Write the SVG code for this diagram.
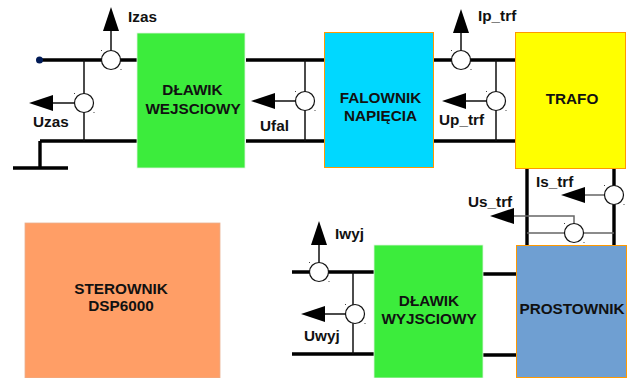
<svg xmlns="http://www.w3.org/2000/svg" width="629" height="378" viewBox="0 0 629 378">
<style>
text{font-family:"Liberation Sans",Arial,sans-serif;font-weight:bold;fill:#111;font-size:15.3px}
.c{text-anchor:middle}
.b{stroke:#000;stroke-width:3.4;fill:none}
.t{stroke:#111;stroke-width:1.5;fill:none}
.g{stroke:#666;stroke-width:1.5;fill:none}
.s{fill:#fff;stroke:#111;stroke-width:1.2}
.d{fill:#444}
.a{fill:#000}
</style>
<defs>
<g id="sensor"><circle class="s" r="9.500"/><rect class="d" x="-10" y="-10" width="1" height="1"/><rect class="d" x="9.500" y="9" width="1" height="1"/></g>
</defs>
<rect width="629" height="378" fill="#fff"/>
<g id="connectors">
<path class="b" d="M39 60H137M246 60H324M40 141H137M246 141H324M40 141V168M13 168H68M433 60H516M433 141H516"/>
<path class="t" d="M84 60V141M305 60V141M496 60V141"/>
<path class="b" d="M527 168V245M614 168V245M292 272H374M292 354H374M483 274H517M483 355H517"/>
<path class="t" d="M353 272V354"/>
<path class="g" d="M527 233H614M574 233V216H512M614 195H580"/>
<path class="t" d="M111 60V28M84 103H50M305 101H270M461 60V30M496 101H460M319 272V243M355 314H320"/>
<polygon class="a" points="111,7 103,31 119,31"/>
<polygon class="a" points="29,103 53,95 53,111"/>
<polygon class="a" points="251,101 275,93 275,109"/>
<polygon class="a" points="461,9 453,33 469,33"/>
<polygon class="a" points="442,101 466,93 466,109"/>
<polygon class="a" points="561,195 585,187 585,203"/>
<polygon class="a" points="490,216 514,208 514,224"/>
<polygon class="a" points="319,221 311,245 327,245"/>
<polygon class="a" points="301,314 325,306 325,322"/>
<circle cx="39.500" cy="60" r="3.500" fill="#001a55"/>
</g>
<g id="sensors">
<use href="#sensor" x="111" y="60"/><use href="#sensor" x="84" y="103"/>
<use href="#sensor" x="305" y="101"/><use href="#sensor" x="461" y="60"/>
<use href="#sensor" x="496" y="101"/><use href="#sensor" x="614" y="195"/>
<use href="#sensor" x="574" y="233"/><use href="#sensor" x="319" y="272"/>
<use href="#sensor" x="355" y="314"/>
</g>
<g id="dlawik-wejsciowy"><rect x="137" y="33" width="108" height="135" fill="#3cec3c" stroke="#dff5df" stroke-width=".8"/>
<text class="c" x="192.500" y="95">DŁAWIK</text><text class="c" x="193" y="114">WEJSCIOWY</text></g>
<g id="falownik"><rect x="324.500" y="32.500" width="109" height="135" fill="#00d8ff" stroke="#f90" stroke-width="1"/>
<text class="c" x="380.500" y="103">FALOWNIK</text><text class="c" x="380.500" y="121">NAPIĘCIA</text></g>
<g id="trafo"><rect x="515.500" y="32.500" width="110" height="136" fill="#ff0" stroke="#f90" stroke-width="1"/>
<text class="c" x="572" y="104">TRAFO</text></g>
<g id="prostownik"><rect x="516.500" y="245.500" width="110" height="132" fill="#6f9fd2" stroke="#f90" stroke-width="1"/>
<text class="c" x="572" y="314">PROSTOWNIK</text></g>
<g id="dlawik-wyjsciowy"><rect x="374" y="245" width="109" height="133" fill="#3cec3c" stroke="#dff5df" stroke-width=".8"/>
<text class="c" x="429" y="306">DŁAWIK</text><text class="c" x="429" y="324">WYJSCIOWY</text></g>
<g id="sterownik"><rect x="25" y="223" width="195" height="155" fill="#ff9e66" stroke="#e8b090" stroke-width=".8"/>
<text class="c" x="121" y="294">STEROWNIK</text><text class="c" x="121" y="311">DSP6000</text></g>
<g id="labels">
<text x="128" y="22">Izas</text><text x="33" y="127">Uzas</text><text x="260" y="131">Ufal</text>
<text x="439" y="125">Up_trf</text><text x="478" y="21">Ip_trf</text><text x="536" y="187">Is_trf</text>
<text x="468" y="207">Us_trf</text><text x="335" y="239">Iwyj</text><text x="304" y="341">Uwyj</text>
</g>
</svg>
